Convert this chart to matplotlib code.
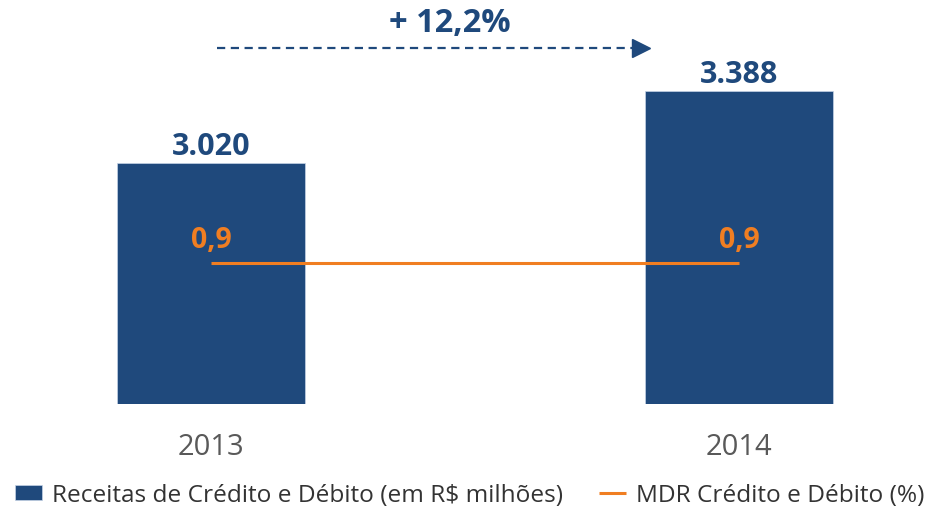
import matplotlib
matplotlib.use("Agg")
import matplotlib.pyplot as plt
import matplotlib.transforms as mtransforms

plt.rcParams['font.family'] = ['Open Sans', 'DejaVu Sans']

# data
years = ["2013", "2014"]
receitas = [3020, 3388]          # Receitas de Crédito e Débito (em R$ milhões)
mdr = [0.9, 0.9]                 # MDR Crédito e Débito (%)
bar_label = "Receitas de Crédito e Débito (em R$ milhões)"
line_label = "MDR Crédito e Débito (%)"

navy = "#1f497c"
orange = "#f07e22"
gray = "#595959"

fig = plt.figure(figsize=(9.29, 5.10), dpi=100)
ax = fig.add_axes([0, 105 / 510, 1, 405 / 510])
x = list(range(len(years)))

bars = ax.bar(x, receitas, width=0.356, color=navy, edgecolor="#c5d3e6", linewidth=0.5)
ax.set_ylim(1790, 3860)
ax.set_xlim(-0.4004, 1.36)

for xi, v in zip(x, receitas):
    ax.annotate(f"{v:,}".replace(",", "."), (xi, v), xytext=(0, 7), textcoords="offset points",
                ha="center", va="baseline", fontsize=22, fontweight="bold", color=navy)

ax.set_xticks(x, years)
for s in ax.spines.values():
    s.set_visible(False)

# MDR line on a second scale
ax2 = ax.twinx()
ax2.set_ylim(0, 2.585)
line, = ax2.plot(x, mdr, color=orange, linewidth=2.2, solid_capstyle="butt")
for xi, v in zip(x, mdr):
    ax2.annotate(f"{v:.1f}".replace(".", ","), (xi, v), xytext=(0, 11.5), textcoords="offset points",
                 ha="center", va="baseline", fontsize=20.5, fontweight="bold", color=orange)
ax2.axis("off")

ax.tick_params(axis="x", length=0, pad=20, labelsize=21, labelcolor=gray)
ax.tick_params(axis="y", left=False, right=False, labelleft=False, labelright=False)

# growth arrow
growth = (receitas[1] / receitas[0] - 1) * 100
trans = mtransforms.blended_transform_factory(ax.transData, ax.transAxes)
arrow_y = 1 - 49.3 / 405
ax.plot([x[0] + 0.01, x[1] - 0.19], [arrow_y, arrow_y], transform=trans, color=navy,
        linewidth=1.6, linestyle=(0, (3.7, 2.5)), clip_on=False)
ax.plot([x[1] - 0.185], [arrow_y], transform=trans, marker=">", markersize=12.5,
        color=navy, clip_on=False)
ax.text(0.452, 1 - 32 / 405, f"+ {growth:.1f}%".replace(".", ","), transform=trans,
        ha="center", va="baseline", fontsize=23.5, fontweight="bold", color=navy)

fig.legend([bars, line], [bar_label, line_label], loc="center left",
           bbox_to_anchor=(15 / 929, 14 / 510), ncol=2, frameon=False,
           fontsize=17.6, labelcolor="#333333", handlelength=1.1, handleheight=0.57,
           handletextpad=0.4, columnspacing=1.5, borderpad=0, borderaxespad=0)

fig.savefig("out.png", dpi=100)
